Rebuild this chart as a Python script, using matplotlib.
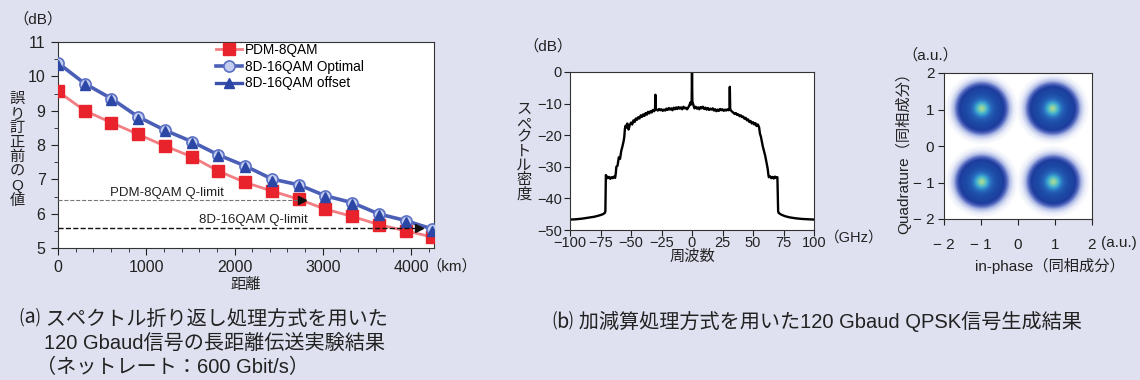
import numpy as np
import matplotlib
matplotlib.use("Agg")
import matplotlib.pyplot as plt
from matplotlib.colors import LinearSegmentedColormap
from matplotlib.ticker import MultipleLocator

plt.rcParams["font.family"] = ["Liberation Sans", "Noto Sans CJK JP", "DejaVu Sans"]

# (a) pre-FEC Q vs distance
distance_km = [0, 303, 606, 909, 1212, 1515, 1818, 2121, 2424, 2727, 3030, 3333, 3636, 3939, 4242]
q_pdm_8qam = [9.56, 9.0, 8.65, 8.31, 7.97, 7.66, 7.24, 6.91, 6.66, 6.42, 6.13, 5.92, 5.68, 5.50, 5.32]
q_8d_optimal = [10.39, 9.79, 9.35, 8.82, 8.43, 8.10, 7.71, 7.39, 7.01, 6.84, 6.52, 6.32, 5.99, 5.80, 5.55]
q_8d_offset = [10.34, 9.74, 9.30, 8.77, 8.40, 8.05, 7.68, 7.35, 6.96, 6.80, 6.48, 6.28, 5.95, 5.76, 5.49]
qlimit_pdm = 6.4
qlimit_8d = 5.58
qlimit_pdm_end = 2760
qlimit_8d_end = 4085
legend_labels = ["PDM-8QAM", "8D-16QAM Optimal", "8D-16QAM offset"]

# (b) spectrum
freq_ghz = [-100, -95, -90, -85, -80, -76, -73, -71.5, -71, -70.6, -70, -69, -68, -67, -66, -65, -64, -63,
            -62.5, -62, -61, -60, -59, -58, -57, -56, -55.5, -55, -54.5, -54, -53, -52, -51, -50, -49, -48,
            -47, -46, -45, -44, -43, -42, -41, -40, -39, -38, -37, -36, -35, -34, -33, -32, -31, -30.3, -30,
            -29.7, -29, -28, -27, -26, -25, -24, -23, -22, -21, -20, -19, -18, -17, -16, -15, -14, -13, -12,
            -11, -10, -9, -8, -7, -6, -5, -4, -3, -2, -1.2, -0.8, -0.3, 0, 0.3, 0.8, 1.5, 2, 3, 4, 5, 6, 7, 8,
            9, 10, 11, 12, 13, 14, 15, 16, 17, 18, 19, 20, 21, 22, 23, 24, 25, 26, 27, 28, 29, 30, 30.7, 31,
            31.3, 32, 33, 34, 35, 36, 37, 38, 39, 40, 41, 42, 43, 44, 45, 46, 47, 48, 49, 50, 51, 52, 53, 54,
            55, 55.7, 56.5, 57, 58, 59, 60, 61, 62, 62.6, 63, 64, 65, 66, 67, 68, 69, 70, 70.6, 71, 73, 76, 80,
            85, 90, 95, 100]
psd_db = [-46.7, -46.6, -46.4, -46.1, -45.8, -45.4, -45.0, -44.6, -44.1, -32.6, -33.0, -33.6, -33.2, -33.8,
          -33.3, -33.6, -33.1, -33.5, -32.2, -30.0, -29.6, -27.0, -27.5, -25.0, -23.5, -21.8, -20.5, -18.0,
          -17.0, -17.6, -16.3, -18.2, -16.8, -16.0, -16.6, -15.3, -15.8, -14.7, -15.1, -14.3, -14.7, -13.7,
          -14.2, -13.4, -13.9, -13.0, -13.5, -12.6, -13.1, -12.4, -12.8, -12.0, -12.4, -11.8, -7.2, -11.6,
          -11.9, -12.2, -11.7, -12.1, -11.8, -12.3, -11.9, -12.2, -11.6, -12.0, -11.4, -11.9, -11.5, -12.1,
          -11.3, -11.8, -11.2, -11.7, -11.1, -11.6, -11.2, -11.8, -11.0, -11.5, -11.3, -11.8, -11.2, -10.4,
          -9.6, -10.3, -9.8, 0.0, -9.4, -10.0, -10.8, -11.5, -11.0, -11.6, -11.2, -11.8, -11.1, -11.5, -11.0,
          -11.7, -11.3, -11.9, -11.4, -12.0, -11.6, -11.9, -11.5, -12.2, -11.8, -12.4, -11.9, -12.3, -11.7,
          -12.1, -11.8, -12.3, -11.9, -12.2, -11.8, -12.1, -11.9, -4.7, -11.7, -12.2, -12.6, -12.9, -13.3,
          -13.0, -13.6, -13.4, -14.0, -13.7, -14.3, -14.1, -14.8, -14.5, -15.3, -15.0, -15.8, -15.5, -16.3,
          -15.9, -16.6, -16.2, -17.1, -16.6, -17.5, -19.5, -20.5, -21.5, -23.5, -25.0, -26.5, -28.5, -30.5,
          -32.5, -33.3, -33.0, -33.6, -33.2, -33.7, -33.1, -33.5, -33.3, -44.0, -44.6, -45.1, -45.6, -46.0,
          -46.3, -46.5, -46.6, -46.7]

# (b) QPSK constellation
symbol_i = [-0.98, 0.94, -0.98, 0.96]
symbol_q = [1.03, 1.03, -0.98, -0.98]
cloud_radius = [0.0, 0.08, 0.16, 0.24, 0.32, 0.42, 0.52, 0.60, 0.68, 0.76, 0.86, 0.95, 1.0]
cloud_density = [1.0, 0.9, 0.72, 0.55, 0.47, 0.42, 0.38, 0.32, 0.20, 0.10, 0.04, 0.015, 0.0]
iq_ticks = [-2, -1, 0, 1, 2]
iq_ticklabels = ["− 2", "− 1", "0", "1", "2"]

bg = "#dfe1f0"
W, H = 1140, 380


def px(x, y):
    return x / W, 1 - y / H


def ftext(x, y, s, **kw):
    fig.text(*px(x, y), s, **kw)


fig = plt.figure(figsize=(W / 100, H / 100), dpi=100, facecolor=bg)

# ---------- (a) ----------
ax1 = fig.add_axes([58 / W, 1 - 248 / H, 376 / W, 206 / H])
ax1.plot(distance_km, q_pdm_8qam, color="#f27d82", lw=2, marker="s", ms=8,
         mfc="#e8232b", mec="#e8232b", label=legend_labels[0], zorder=3)
ax1.plot(distance_km, q_8d_optimal, color="#4b5fb6", lw=2.6, marker="o", ms=8,
         mfc="#c3cdf0", mec="#5b70c5", mew=1.2, label=legend_labels[1], zorder=4)
ax1.plot(distance_km, q_8d_offset, color="#3a50ab", lw=0, marker="^", ms=7.5,
         mfc="#2b46a4", mec="#2b46a4", label=legend_labels[2], zorder=5)
# legend entry for offset should show a line, so draw a proxy
h, l = ax1.get_legend_handles_labels()
h[2] = plt.Line2D([], [], color="#3a50ab", lw=2.4, marker="^", ms=7.5, mfc="#2b46a4", mec="#2b46a4")
ax1.legend(h, l, loc="upper left", bbox_to_anchor=px(216, 43), bbox_transform=fig.transFigure,
           frameon=False, fontsize=9.8, handlelength=1.9, handletextpad=0.2, labelspacing=0.2,
           borderaxespad=0, borderpad=0)

ax1.plot([0, qlimit_pdm_end], [qlimit_pdm, qlimit_pdm], ls="--", lw=0.8, color="#777777", zorder=6)
ax1.plot([qlimit_pdm_end], [qlimit_pdm], marker=">", ms=6, color="#111111", zorder=7)
ax1.plot([0, qlimit_8d_end], [qlimit_8d, qlimit_8d], ls="--", lw=1.0, color="#111111", zorder=6)
ax1.plot([qlimit_8d_end], [qlimit_8d], marker=">", ms=6, color="#111111", zorder=7)
ax1.text(590, 6.52, "PDM-8QAM Q-limit", fontsize=9.5, color="#222222")
ax1.text(1600, 5.72, "8D-16QAM Q-limit", fontsize=9.5, color="#222222")

ax1.set_xlim(0, 4260)
ax1.set_ylim(5, 11)
ax1.set_xticks(range(0, 4001, 1000))
ax1.xaxis.set_minor_locator(MultipleLocator(200))
ax1.yaxis.set_major_locator(MultipleLocator(1))
ax1.yaxis.set_minor_locator(MultipleLocator(0.5))
ax1.tick_params(which="major", direction="out", length=5, labelsize=11.5, colors="#222222", pad=4)
ax1.tick_params(which="minor", direction="out", length=3, colors="#222222")
ax1.set_facecolor("white")
for s in ax1.spines.values():
    s.set_color("#333333")
    s.set_linewidth(0.8)

ftext(38, 19, "（dB）", fontsize=11, ha="center", va="center", color="#222222")
ftext(17, 150, "\n".join("誤り訂正前のQ値"), fontsize=11, ha="center", va="center",
      linespacing=1.05, color="#222222")
ftext(452, 266, "（km）", fontsize=11, ha="center", va="center", color="#222222")
ftext(246, 285, "距離", fontsize=11, ha="center", va="center", color="#222222")

# ---------- (b) spectrum ----------
ax2 = fig.add_axes([570 / W, 1 - 230 / H, 244 / W, 158 / H])
ax2.plot(freq_ghz, psd_db, color="black", lw=1.7)
ax2.set_xlim(-100, 100)
ax2.set_ylim(-50, 0)
ax2.set_xticks(range(-100, 101, 25))
ax2.set_yticks(range(-50, 1, 10))
ax2.tick_params(direction="out", length=4, labelsize=10.5, colors="#222222", pad=2)
ax2.tick_params(axis="x", pad=0.5)
ax2.set_facecolor("white")
for s in ax2.spines.values():
    s.set_color("#333333")
    s.set_linewidth(0.8)
ftext(548, 46, "（dB）", fontsize=11, ha="center", va="center", color="#222222")
ftext(524, 152, "\n".join("スペクトル密度"), fontsize=11, ha="center", va="center",
      linespacing=1.0, color="#222222")
ftext(825, 238, "（GHz）", fontsize=10.5, ha="left", va="center", color="#222222")
ftext(692, 257, "周波数", fontsize=11, ha="center", va="center", color="#222222")

# ---------- (b) constellation ----------
ax3 = fig.add_axes([944 / W, 1 - 219 / H, 148 / W, 146 / H])
grid = np.linspace(-2, 2, 401)
gi, gq = np.meshgrid(grid, grid)
dens = np.zeros_like(gi)
for ci, cq in zip(symbol_i, symbol_q):
    r = np.hypot(gi - ci, gq - cq)
    dens = np.maximum(dens, np.interp(r, cloud_radius, cloud_density))
cmap = LinearSegmentedColormap.from_list(
    "iq", [(0.0, "#ffffff"), (0.03, "#eef0fa"), (0.1, "#b0bce6"), (0.2, "#5468c0"),
           (0.32, "#1c3c9c"), (0.42, "#1d4aa6"), (0.55, "#2a70c0"), (0.72, "#3aa6d0"),
           (0.88, "#70c8b8"), (1.0, "#b4dc8c")])
ax3.imshow(dens, extent=[-2, 2, -2, 2], origin="lower", cmap=cmap, vmin=0, vmax=1,
           interpolation="bilinear", aspect="auto")
ax3.set_xlim(-2, 2)
ax3.set_ylim(-2, 2)
ax3.set_xticks(iq_ticks, iq_ticklabels)
ax3.set_yticks(iq_ticks, iq_ticklabels)
ax3.tick_params(direction="out", length=4, labelsize=11, colors="#222222", pad=3)
ax3.tick_params(axis="x", pad=10)
for s in ax3.spines.values():
    s.set_color("#333333")
    s.set_linewidth(0.8)
ftext(930, 55, "（a.u.）", fontsize=11, ha="center", va="center", color="#222222")
ftext(1101, 243, "(a.u.)", fontsize=11, ha="left", va="center", color="#222222")
ftext(903, 149, "Quadrature（同相成分）", fontsize=11, ha="center", va="center",
      rotation=90, color="#222222")
ftext(1050, 266, "in-phase（同相成分）", fontsize=11, ha="center", va="center", color="#222222")

# ---------- captions ----------
cap = dict(fontsize=14.5, ha="left", va="center", color="#222222")
ftext(20, 319, "⒜ スペクトル折り返し処理方式を用いた", **cap)
ftext(44, 343, "120 Gbaud信号の長距離伝送実験結果", **cap)
ftext(36, 367, "（ネットレート：600 Gbit/s）", **cap)
ftext(553, 321, "⒝ 加減算処理方式を用いた120 Gbaud QPSK信号生成結果", **cap)

fig.savefig("out.png", dpi=100, facecolor=bg)
